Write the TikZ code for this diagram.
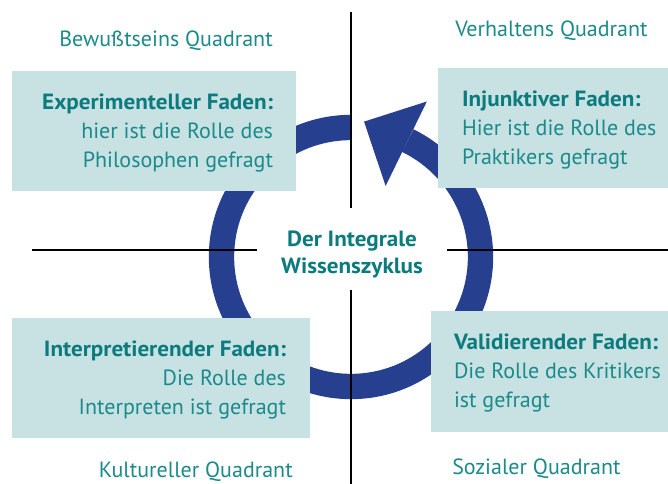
\documentclass[tikz,border=0pt]{standalone}
\usepackage{fontspec}
\setmainfont{PT Sans}[BoldFeatures={FakeStretch=1.05}]
\usetikzlibrary{positioning}

\definecolor{faden}{HTML}{C8E1E3}
\definecolor{petrol}{HTML}{1B8A8A}
\definecolor{petroldunkel}{HTML}{0B7B7D}
\definecolor{zyklus}{HTML}{263F8E}

\begin{document}
\begin{tikzpicture}[x=0.75pt,y=0.75pt,
    box/.style={fill=faden,inner sep=0pt},
    txt/.style={text=petrol,inner sep=0pt,font=\fontsize{16.5}{21.75}\selectfont},
    kopf/.style={text=petroldunkel,font=\fontsize{16.5}{20.25}\selectfont\bfseries},
    achse/.style={line width=1.7pt}]
    \useasboundingbox (0,0) rectangle (668,484);

    % Wissenszyklus: Ring mit Pfeilspitze
    \coordinate (mitte) at (351,227);
    \draw[zyklus,line width=19pt] ([shift={(90:129.5)}]mitte)
        arc[start angle=90,end angle=424,radius=129.5];
    \fill[zyklus] ([shift={(64:173)}]mitte) -- ([shift={(84.5:136)}]mitte)
        -- ([shift={(64:79)}]mitte) -- cycle;

    % Achsen
    \coordinate (oben)        at (351,472);
    \coordinate (obenmitte)   at (351,276);
    \coordinate (untenmitte)  at (351,194);
    \coordinate (unten)       at (351,0);
    \coordinate (links)       at (32,234);
    \coordinate (linksmitte)  at (257,234);
    \coordinate (rechtsmitte) at (447,234);
    \coordinate (rechts)      at (668,234);
    \draw[achse] (oben) -- (obenmitte)
                 (untenmitte) -- (unten)
                 (links) -- (linksmitte)
                 (rechtsmitte) -- (rechts);

    \node[kopf,align=center] (zentrum) at (352,230) {Der Integrale\\Wissenszyklus};

    % Faeden
    \node[box,minimum width=213pt,minimum height=90pt]     (exp) at (154,353)   {};
    \node[box,minimum width=172.5pt,minimum height=90pt]   (inj) at (553,356)   {};
    \node[box,minimum width=223.5pt,minimum height=90pt]   (int) at (161,106)   {};
    \node[box,minimum width=177.75pt,minimum height=90.75pt] (val) at (549.5,112.5) {};

    \node[txt,align=right,anchor=east] (exptext) at ([shift={(-23,-2)}]exp.east)
        {\textcolor{petroldunkel}{\bfseries Experimenteller Faden:}\\hier ist die Rolle des\\Philosophen gefragt};
    \node[txt,align=left,anchor=west] (injtext) at ([shift={(24,-2)}]inj.west)
        {\textcolor{petroldunkel}{\bfseries Injunktiver Faden:}\\Hier ist die Rolle des\\Praktikers gefragt};
    \node[txt,align=right,anchor=east] (inttext) at ([shift={(-24,-2)}]int.east)
        {\textcolor{petroldunkel}{\bfseries Interpretierender Faden:}\\Die Rolle des\\Interpreten ist gefragt};
    \node[txt,align=left,anchor=west] (valtext) at ([shift={(23,-2)}]val.west)
        {\textcolor{petroldunkel}{\bfseries Validierender Faden:}\\Die Rolle des Kritikers\\ist gefragt};

    % Quadranten
    \node[txt,anchor=base east] (bewusst)    at (273,437) {Bewußtseins Quadrant};
    \node[txt,anchor=base west] (verhalten)  at (455,447) {Verhaltens Quadrant};
    \node[txt,anchor=base east] (kultur)     at (293,6)   {Kultureller Quadrant};
    \node[txt,anchor=base west] (sozial)     at (452,9)   {Sozialer Quadrant};
\end{tikzpicture}
\end{document}
